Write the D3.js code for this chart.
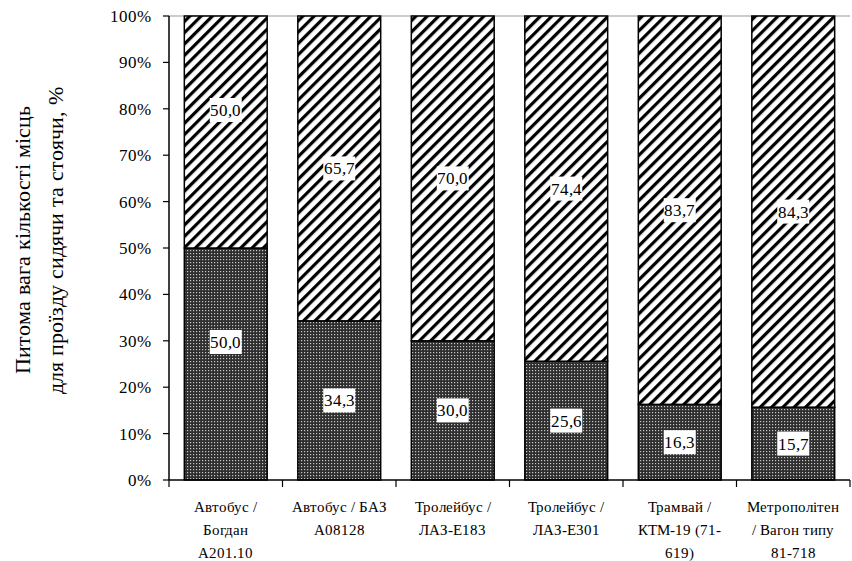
<!DOCTYPE html>
<html><head><meta charset="utf-8"><script src="https://cdn.jsdelivr.net/npm/d3@7"></script>
<style>
  @font-face {
    font-family: "ChartSerif";
    src: local("Liberation Serif"), local("LiberationSerif"), local("LiberationSerif-Regular"), local("Times New Roman"), local("Tinos");
  }
</style>
</head>
<body style="margin:0">
<svg id="chart" width="852" height="561"></svg>
<script>
// Vehicle types (multi-line category labels)
const categories = [
  ["Автобус /", "Богдан", "А201.10"],
  ["Автобус / БАЗ", "А08128"],
  ["Тролейбус /", "ЛАЗ-Е183"],
  ["Тролейбус /", "ЛАЗ-Е301"],
  ["Трамвай /", "КТМ-19 (71-", "619)"],
  ["Метрополітен", "/ Вагон типу", "81-718"]
];
// Share of seats (bottom) and standing places (top), %
const seated   = [50.0, 34.3, 30.0, 25.6, 16.3, 15.7];
const standing = [50.0, 65.7, 70.0, 74.4, 83.7, 84.3];
const yTicks = [0, 10, 20, 30, 40, 50, 60, 70, 80, 90, 100];
const yTitle = ["Питома вага кількості місць", "для проїзду сидячи та стоячи, %"];

const FONT = '"ChartSerif", "Liberation Serif", "Times New Roman", serif';
const svg = d3.select("#chart");
const plotL = 169, plotR = 850, plotT = 16, plotB = 480;

const defs = svg.append("defs");
// dark dotted fill
const dots = defs.append("pattern").attr("id", "dots")
  .attr("patternUnits", "userSpaceOnUse").attr("width", 3).attr("height", 3);
dots.append("rect").attr("width", 3).attr("height", 3).attr("fill", "#2e2e2e");
dots.append("rect").attr("x", 1).attr("y", 1).attr("width", 1.2).attr("height", 1.2).attr("fill", "#c8c8c8");
// diagonal hatch
const hatch = defs.append("pattern").attr("id", "hatch")
  .attr("patternUnits", "userSpaceOnUse").attr("width", 8).attr("height", 8)
  .attr("patternTransform", "rotate(45)");
hatch.append("rect").attr("width", 8).attr("height", 8).attr("fill", "#fff");
hatch.append("rect").attr("x", 0).attr("width", 3.2).attr("height", 8).attr("fill", "#000");

const x = d3.scaleBand().domain(d3.range(categories.length)).range([plotL, plotR]).paddingInner(0.27).paddingOuter(0.135);
const xOuter = d3.scaleBand().domain(d3.range(categories.length)).range([plotL, plotR]);
const y = d3.scaleLinear().domain([0, 100]).range([plotB, plotT]);

// top gridline
svg.append("line").attr("x1", plotL).attr("x2", plotR).attr("y1", y(100)).attr("y2", y(100))
  .attr("stroke", "#999").attr("stroke-width", 1);

const stacks = d3.stack().keys(["seated", "standing"])(
  seated.map((s, i) => ({ i, seated: s, standing: standing[i] })));

const fills = ["url(#dots)", "url(#hatch)"];
stacks.forEach((layer, k) => {
  svg.append("g").selectAll("rect").data(layer).join("rect")
    .attr("x", d => x(d.data.i))
    .attr("width", x.bandwidth())
    .attr("y", d => y(d[1]))
    .attr("height", d => y(d[0]) - y(d[1]))
    .attr("fill", fills[k])
    .attr("stroke", "#000").attr("stroke-width", 1.5);
});

// value labels in white boxes (first column's labels sit a little higher)
const labelShift = i => (i === 0 ? -22 : 0);
stacks.forEach((layer, k) => {
  const vals = k === 0 ? seated : standing;
  const g = svg.append("g");
  layer.forEach((d, i) => {
    const cx = x(i) + x.bandwidth() / 2;
    const cy = y((d[0] + d[1]) / 2) + labelShift(i);
    const t = vals[i].toFixed(1).replace(".", ",");
    const w = 32, h = 24;
    g.append("rect").attr("x", cx - w / 2).attr("y", cy - h / 2).attr("width", w).attr("height", h).attr("fill", "#fff");
    g.append("text").attr("x", cx).attr("y", cy + 6)
      .attr("text-anchor", "middle").attr("font-size", 17).style("font-family", FONT).text(t);
  });
});

// y axis
const yg = svg.append("g");
yg.append("line").attr("x1", plotL).attr("x2", plotL).attr("y1", plotT).attr("y2", plotB)
  .attr("stroke", "#000").attr("stroke-width", 1.5);
yTicks.forEach(v => {
  yg.append("line").attr("x1", plotL - 6).attr("x2", plotL).attr("y1", y(v)).attr("y2", y(v))
    .attr("stroke", "#000").attr("stroke-width", 1.2);
  yg.append("text").attr("x", plotL - 18).attr("y", y(v) + 6).attr("text-anchor", "end")
    .attr("font-size", 17).style("font-family", FONT).text(v + "%");
});

// x axis with boundary ticks
const xg = svg.append("g");
xg.append("line").attr("x1", plotL).attr("x2", plotR).attr("y1", plotB).attr("y2", plotB)
  .attr("stroke", "#000").attr("stroke-width", 1.5);
const bounds = d3.range(categories.length).map(i => xOuter(i)).concat([plotR]);
xg.selectAll("line.tk").data(bounds).join("line").attr("class", "tk")
  .attr("x1", d => d).attr("x2", d => d).attr("y1", plotB).attr("y2", plotB + 7)
  .attr("stroke", "#000").attr("stroke-width", 1.2);
categories.forEach((lines, i) => {
  const cx = xOuter(i) + xOuter.bandwidth() / 2;
  lines.forEach((ln, j) => {
    xg.append("text").attr("x", cx).attr("y", 512 + j * 23).attr("text-anchor", "middle")
      .attr("font-size", 14.5).style("font-family", FONT).text(ln);
  });
});

// y axis title
yTitle.forEach((ln, j) => {
  svg.append("text").attr("transform", `translate(${30 + j * 33},240) rotate(-90)`)
    .attr("text-anchor", "middle").attr("font-size", 21.5).style("font-family", FONT).text(ln);
});
</script>
</body>
</html>
